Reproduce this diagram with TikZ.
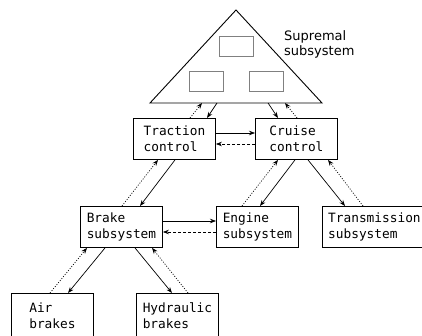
\documentclass[tikz,border=0pt]{standalone}
\usepackage{fontspec}
\newfontfamily\monofam{DejaVu Sans Mono}
\newfontfamily\sansfam{DejaVu Sans}
\usetikzlibrary{arrows.meta,calc}
\begin{document}
\begin{tikzpicture}[x=1pt,y=-1pt,
  sysbox/.style={draw,line width=0.9pt,minimum width=82pt,minimum height=41pt,inner sep=0pt,
    align=left,font=\monofam\fontsize{12.8}{16}\selectfont,anchor=north west},
  flow/.style={line width=0.7pt,-{Stealth[length=6pt,width=4.5pt]}},
  fbdot/.style={flow,dash pattern=on 1pt off 1.6pt},
  fbdash/.style={flow,dash pattern=on 3pt off 2pt},
  inner/.style={draw=gray,line width=0.7pt}]
\useasboundingbox (0,0) rectangle (422,336);
% supremal triangle
\coordinate (apex) at (236,10);
\coordinate (bl) at (150,103);
\coordinate (br) at (322,103);
\draw[line width=0.9pt] (bl) -- (apex) -- (br) -- cycle;
\draw[inner] (219,36) rectangle (253,56);
\draw[inner] (189,71) rectangle (223,91);
\draw[inner] (249,71) rectangle (283,91);
\node[font=\sansfam\fontsize{13}{15}\selectfont,align=left,anchor=north west,inner sep=0pt] (sup) at (284,30) {Supremal\\subsystem};
% boxes
\node[sysbox] (trac) at (133,118) {Traction\\control};
\node[sysbox] (cru) at (255,118) {Cruise\\control};
\node[sysbox] (brk) at (80,206) {Brake\\subsystem};
\node[sysbox] (eng) at (216,206) {Engine\\subsystem};
\node[sysbox,minimum width=104pt] (trn) at (322,206) {Transmission\\subsystem};
\node[sysbox,minimum height=44pt] (air) at (11,293) {Air\\brakes};
\node[sysbox,minimum height=44pt] (hyd) at (136,293) {Hydraulic\\brakes};
% triangle base points
\coordinate (t1) at (217,103);
\coordinate (t2) at (202,103);
\coordinate (t3) at (268,103);
\coordinate (t4) at (285,103);
% triangle <-> traction / cruise
\draw[flow] (t1) -- ($(trac.north west)+(74,0)$);
\draw[fbdot] ($(trac.north west)+(57,0)$) -- (t2);
\draw[flow] (t3) -- ($(cru.north west)+(23,0)$);
\draw[fbdot] ($(cru.north west)+(42,0)$) -- (t4);
% traction <-> cruise
\draw[flow] (trac.east |- 0,133) -- (cru.west |- 0,133);
\draw[fbdash] (cru.west |- 0,144) -- (trac.east |- 0,144);
% traction <-> brake
\draw[flow] ($(trac.south west)+(42,0)$) -- ($(brk.north west)+(60,0)$);
\draw[fbdot] ($(brk.north west)+(42,0)$) -- ($(trac.south west)+(25,0)$);
% cruise <-> engine
\draw[flow] ($(cru.south west)+(40,0)$) -- ($(eng.north west)+(44,0)$);
\draw[fbdot] ($(eng.north west)+(26,0)$) -- ($(cru.south west)+(23,0)$);
% cruise <-> transmission
\draw[flow] ($(cru.south west)+(53,0)$) -- ($(trn.north west)+(23,0)$);
\draw[fbdot] ($(trn.north west)+(41,0)$) -- ($(cru.south west)+(73,0)$);
% brake <-> engine
\draw[flow] (brk.east |- 0,221) -- (eng.west |- 0,221);
\draw[fbdash] (eng.west |- 0,232) -- (brk.east |- 0,232);
% brake <-> air
\draw[flow] ($(brk.south west)+(25,0)$) -- ($(air.north west)+(57,0)$);
\draw[fbdot] ($(air.north west)+(39,0)$) -- ($(brk.south west)+(7,0)$);
% brake <-> hydraulic
\draw[flow] ($(brk.south west)+(55,0)$) -- ($(hyd.north west)+(36,0)$);
\draw[fbdot] ($(hyd.north west)+(52,0)$) -- ($(brk.south west)+(72,0)$);
\end{tikzpicture}
\end{document}
